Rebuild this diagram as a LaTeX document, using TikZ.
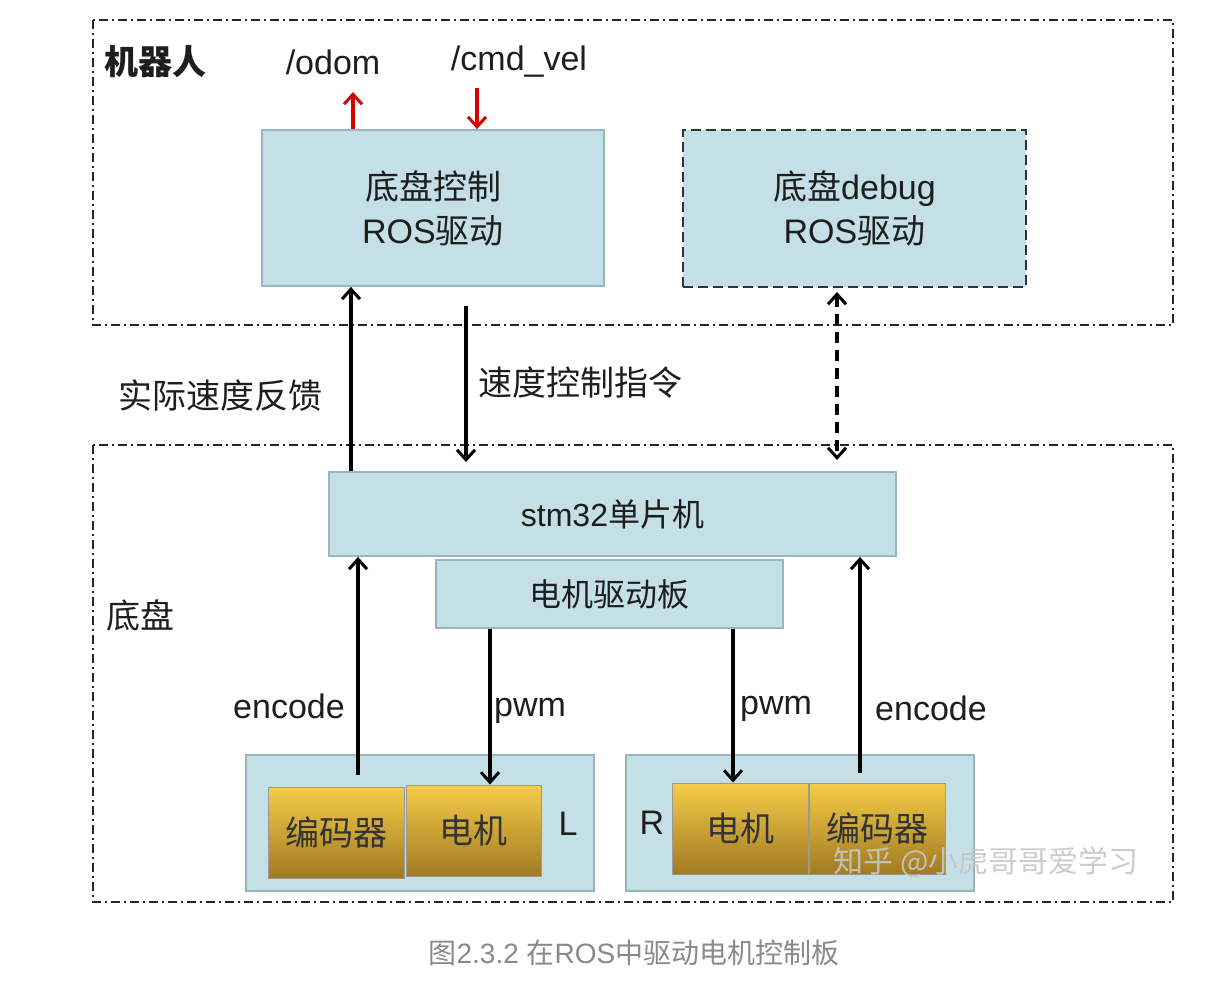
\documentclass[tikz,border=0pt]{standalone}
\usepackage{fontspec}
\setmainfont{Liberation Sans}
\newfontfamily\cjkf{Noto Sans CJK SC}
\newcommand\zh[1]{{\cjkf #1}}
\usetikzlibrary{arrows.meta}
\definecolor{boxfill}{HTML}{C4DFE5}
\definecolor{boxline}{HTML}{98B6BE}
\definecolor{goldtop}{HTML}{F6CC48}
\definecolor{goldbot}{HTML}{A07A22}
\definecolor{txt}{HTML}{1E1E1E}
\definecolor{capgray}{HTML}{8A8A8A}
\tikzset{
  frame/.style={draw=black!85, line width=2.2pt, dash pattern=on 9pt off 4pt on 2pt off 4pt},
  bluebox/.style={draw=boxline, fill=boxfill, line width=1.8pt, inner sep=0pt, align=center, text=txt},
  goldbox/.style={draw=black!40, top color=goldtop, bottom color=goldbot, line width=1pt, inner sep=0pt, text=black!80, font=\fontsize{34}{40}\selectfont},
  lbl/.style={text=txt, inner sep=0pt, font=\fontsize{34}{40}\selectfont},
  tip/.style={},
  arr/.style={draw=black, line width=3.2pt, -{Straight Barb[length=10pt,width=18pt,line width=3pt]}},
  redarr/.style={draw=red!85!black, line width=3.2pt, -{Straight Barb[length=10pt,width=18pt,line width=3pt]}},
  dasharr/.style={draw=black, line width=3.2pt, dash pattern=on 11pt off 7pt, {Straight Barb[length=10pt,width=18pt,line width=3pt]}-{Straight Barb[length=10pt,width=18pt,line width=3pt]}},
}
\begin{document}
\begin{tikzpicture}[x=1pt,y=-1pt]
\useasboundingbox (0,0) rectangle (1224,986);
\fill[white] (0,0) rectangle (1224,986);
% frames
\draw[frame] (93,20) rectangle (1173,325);
\draw[frame] (93,445) rectangle (1173,902);
\node[lbl, anchor=west, font=\fontsize{34}{40}\selectfont\bfseries] (robot) at (104,62) {\zh{机器人}};
\node[lbl, anchor=west] (chassis) at (106,615) {\zh{底盘}};
% top boxes
\node[bluebox, minimum width=342pt, minimum height=156pt, font=\fontsize{34}{44}\selectfont] (ros) at (433,208) {\zh{底盘控制}\\ROS\zh{驱动}};
\node[bluebox, draw=black!80, dash pattern=on 10pt off 5pt, line width=2.6pt, minimum width=343pt, minimum height=157pt, font=\fontsize{34}{44}\selectfont] (dbg) at (854.5,208.5) {\zh{底盘}debug\\ROS\zh{驱动}};
% topic labels
\node[lbl] (odom) at (333,62) {/odom};
\node[lbl] (cmd) at (519,62) {/cmd\_vel};
\coordinate (xo) at (353,0);
\coordinate (xc) at (477,0);
\draw[redarr] (xo |- ros.north) -- (xo |- 0,92);
\draw[redarr] (xc |- 0,88) -- (xc |- ros.north);
% stm32 and driver
\node[bluebox, minimum width=567pt, minimum height=84pt, font=\fontsize{32}{40}\selectfont] (stm) at (612.5,514) {stm32\zh{单片机}};
\node[bluebox, minimum width=347pt, minimum height=68pt, font=\fontsize{32}{40}\selectfont] (drv) at (609.5,594) {\zh{电机驱动板}};
% links between robot and chassis
\coordinate (xf) at (351,0);
\coordinate (xs) at (466,0);
\coordinate (xd) at (837,0);
\draw[arr] (xf |- stm.north) -- (xf |- ros.south);
\draw[arr] (xs |- 0,306) -- (xs |- 0,462);
\draw[dasharr] (xd |- 0,292) -- (xd |- 0,460);
\node[lbl] (fb) at (220,396) {\zh{实际速度反馈}};
\node[lbl] (vc) at (580,383) {\zh{速度控制指令}};
% wheel groups
\node[bluebox, minimum width=348pt, minimum height=136pt] (lw) at (420,823) {};
\node[bluebox, minimum width=348pt, minimum height=136pt] (rw) at (800,823) {};
\node[goldbox, minimum width=136pt, minimum height=91pt] (lenc) at (336,832.5) {\zh{编码器}};
\node[goldbox, minimum width=135pt, minimum height=91pt] (lmot) at (473.5,830.5) {\zh{电机}};
\node[goldbox, minimum width=136pt, minimum height=91pt] (rmot) at (740,828.5) {\zh{电机}};
\node[goldbox, minimum width=136pt, minimum height=91pt] (renc) at (877,828.5) {\zh{编码器}};
\node[lbl] (L) at (568,824) {L};
\node[lbl] (R) at (652,823) {R};
% encoder / pwm arrows
\coordinate (xle) at (358,0);
\coordinate (xlp) at (490,0);
\coordinate (xrp) at (733,0);
\coordinate (xre) at (860,0);
\draw[arr] (xle |- 0,775) -- (xle |- stm.south);
\draw[arr] (xlp |- drv.south) -- (xlp |- lmot.north);
\draw[arr] (xrp |- drv.south) -- (xrp |- rmot.north);
\draw[arr] (xre |- 0,773) -- (xre |- stm.south);
\node[lbl] (enl) at (289,706) {encode};
\node[lbl] (pwl) at (530,711) {pwm};
\node[lbl] (pwr) at (776,709) {pwm};
\node[lbl] (enr) at (931,708) {encode};
% watermark
\node[inner sep=0pt, text=black!22, opacity=0.9, font=\fontsize{30}{36}\selectfont] (wm) at (986,862) {\zh{知乎 @小虎哥哥爱学习}};
% caption
\node[inner sep=0pt, text=capgray, font=\fontsize{28}{34}\selectfont] (cap) at (634,953) {\zh{图}2.3.2 \zh{在}ROS\zh{中驱动电机控制板}};
\end{tikzpicture}
\end{document}
